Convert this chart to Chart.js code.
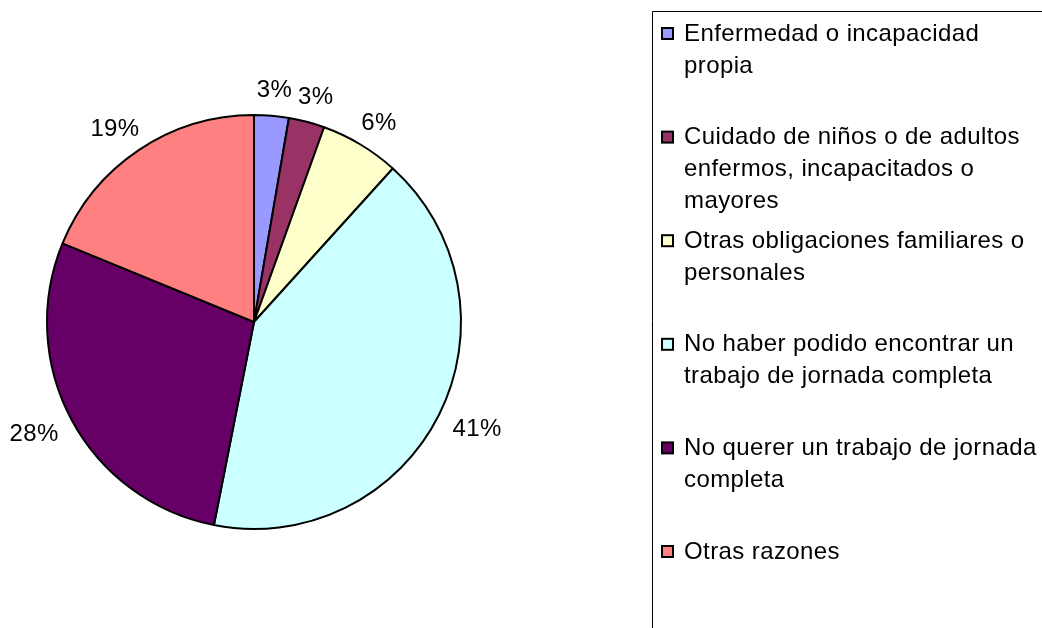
<!DOCTYPE html>
<html>
<head>
<meta charset="utf-8">
<script src="https://cdn.jsdelivr.net/npm/chart.js@4/dist/chart.umd.min.js"></script>
<style>
  html, body { margin: 0; padding: 0; background: #ffffff; }
  #wrap { width: 1042px; height: 628px; position: relative; }
</style>
</head>
<body>
<div id="wrap"><canvas id="c" width="1042" height="628"></canvas></div>
<script>
// ---- data ----
const categories = [
  ["Enfermedad o incapacidad", "propia"],
  ["Cuidado de niños o de adultos", "enfermos, incapacitados o", "mayores"],
  ["Otras obligaciones familiares o", "personales"],
  ["No haber podido encontrar un", "trabajo de jornada completa"],
  ["No querer un trabajo de jornada", "completa"],
  ["Otras razones"]
];
const values = [2.7, 2.8, 6.2, 41.4, 28.1, 18.8];
const valueLabels = ["3%", "3%", "6%", "41%", "28%", "19%"];
const colors = ["#9999FF", "#993366", "#FFFFCC", "#CCFFFF", "#660066", "#FF8080"];

const FONT = '24px "Liberation Sans", Arial, sans-serif';

const pctLabels = {
  id: 'pctLabels',
  afterDatasetsDraw(chart) {
    const ctx = chart.ctx;
    const meta = chart.getDatasetMeta(0);
    ctx.save();
    ctx.font = FONT;
    try { ctx.letterSpacing = '0.4px'; } catch (e) {}
    ctx.fillStyle = '#000';
    ctx.textAlign = 'center';
    ctx.textBaseline = 'middle';
    meta.data.forEach((arc, i) => {
      const p = arc.getProps(['x', 'y', 'startAngle', 'endAngle', 'outerRadius'], true);
      const mid = (p.startAngle + p.endAngle) / 2;
      const dx = Math.cos(mid), dy = Math.sin(mid);
      const t = valueLabels[i];
      const w = ctx.measureText(t).width;
      const h = 18;
      const r = p.outerRadius + 18;
      const x = p.x + r * dx + dx * w / 2;
      const y = p.y + r * dy + dy * h / 2 + 2;
      ctx.fillText(t, x, y);
    });
    ctx.restore();
  }
};

const boxLegend = {
  id: 'boxLegend',
  afterDraw(chart) {
    const ctx = chart.ctx;
    ctx.save();
    // frame
    ctx.strokeStyle = '#000';
    ctx.lineWidth = 1;
    ctx.beginPath();
    ctx.moveTo(652.5, 640);
    ctx.lineTo(652.5, 11.5);
    ctx.lineTo(1050, 11.5);
    ctx.stroke();
    ctx.font = FONT;
    try { ctx.letterSpacing = '0.4px'; } catch (e) {}
    ctx.textAlign = 'left';
    ctx.textBaseline = 'middle';
    const startY = 33, slot = 103.6, lineH = 32;
    categories.forEach((lines, i) => {
      const y0 = startY + i * slot;
      ctx.fillStyle = colors[i];
      ctx.fillRect(662, y0 - 5, 11, 11);
      ctx.lineWidth = 2;
      ctx.strokeStyle = '#000';
      ctx.strokeRect(662, y0 - 5, 11, 11);
      ctx.fillStyle = '#000';
      lines.forEach((ln, j) => {
        ctx.fillText(ln, 684, y0 + j * lineH + 1);
      });
    });
    ctx.restore();
  }
};

new Chart(document.getElementById('c'), {
  type: 'pie',
  data: {
    labels: categories,
    datasets: [{
      data: values,
      backgroundColor: colors,
      borderColor: '#000000',
      borderWidth: 2
    }]
  },
  options: {
    responsive: false,
    animation: false,
    devicePixelRatio: 1,
    layout: { padding: { left: 46, top: 114, right: 580, bottom: 98 } },
    plugins: {
      legend: { display: false },
      tooltip: { enabled: false }
    }
  },
  plugins: [pctLabels, boxLegend]
});
</script>
</body>
</html>
